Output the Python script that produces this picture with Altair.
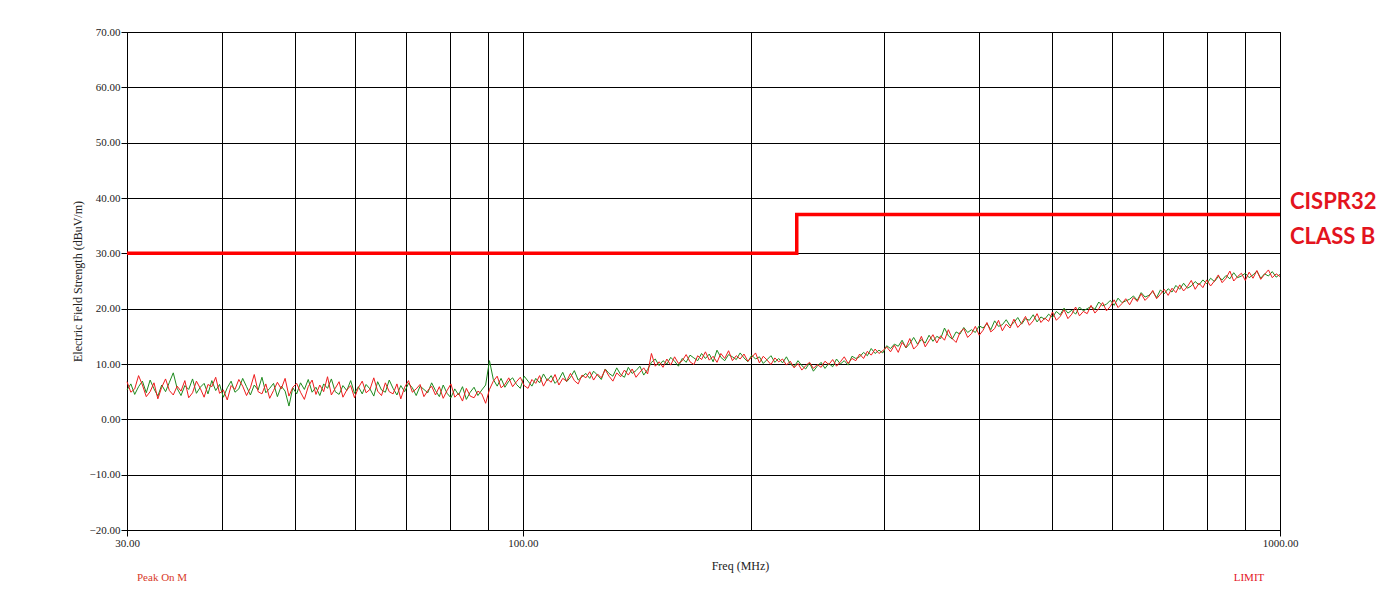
import altair as alt
import numpy as np
import pandas as pd

red_vals = [
    6.8, 4.9, 5.5, 7.9, 6.2, 4.1, 5.0, 6.6, 3.7, 5.8,
    7.3, 5.2, 4.4, 6.0, 5.1, 7.0, 3.9, 4.8, 6.9, 5.6,
    4.0, 6.3, 5.9, 7.6, 4.7, 5.3, 3.5, 6.1, 5.4, 7.2,
    6.0, 4.3, 5.7, 8.1, 5.0, 4.6, 6.4, 3.8, 5.2, 6.7,
    5.5, 7.4, 4.2, 5.8, 6.5, 4.9, 3.6, 5.9, 7.1, 4.5,
    6.2, 5.0, 7.7, 4.4, 5.6, 6.8, 4.0, 5.3, 6.1, 3.9,
    5.7, 6.9, 4.8, 5.4, 7.5, 5.1, 4.3, 6.6, 5.0, 4.6,
    6.4, 3.7, 5.8, 7.0, 4.9, 5.5, 6.3, 4.1, 5.2, 6.0,
    4.4, 5.9, 3.8, 5.2, 6.4, 4.0, 4.7, 3.3, 5.6, 4.2,
    3.9, 5.1, 4.6, 2.9, 5.4, 6.9, 7.8, 5.7, 6.3, 7.5,
    5.9, 6.8, 7.6, 6.1, 5.6, 7.2, 6.5, 7.9, 6.0, 7.3,
    6.7, 8.1, 6.2, 7.4, 6.9, 8.3, 7.0, 6.4, 8.0, 7.5,
    8.6, 7.1, 8.2, 7.5, 9.0, 7.8, 6.9, 8.4, 7.7, 8.9,
    8.0, 9.1, 7.6, 8.5, 9.3, 8.2, 11.9, 9.6, 10.4, 9.4,
    10.9, 9.8, 11.3, 10.1, 10.6, 11.7, 10.4, 9.9, 11.5, 10.8,
    12.2, 10.7, 11.4, 10.3, 11.9, 11.0, 12.4, 10.6, 11.5, 10.9,
    11.8, 10.5, 11.2, 12.0, 10.2, 11.4, 10.7, 9.9, 11.1, 10.4,
    10.9, 9.8, 10.5, 9.3, 10.1, 8.9, 9.7, 10.3, 9.2, 9.9,
    9.4, 10.5, 9.9, 10.8, 9.6, 10.4, 11.3, 10.1, 11.0, 10.6,
    11.8, 11.0, 12.3, 11.6, 12.7, 11.9, 12.4, 13.1, 12.2, 13.4,
    12.1, 13.9, 13.0, 14.6, 12.7, 13.4, 15.0, 13.1, 14.2, 15.3,
    13.8, 15.1, 14.3, 16.2, 14.6, 13.9, 15.7, 16.4, 14.8, 15.5,
    16.8, 15.2, 16.1, 17.5, 15.8, 16.4, 17.9, 16.0, 17.2, 16.5,
    18.1, 16.6, 17.4, 18.6, 17.0, 17.8, 19.1, 17.5, 18.3, 17.7,
    19.4, 17.9, 18.6, 19.8, 18.2, 19.0, 20.3, 18.7, 19.5, 19.1,
    20.6, 19.2, 20.0, 21.1, 19.6, 20.4, 21.6, 20.2, 20.9, 21.8,
    20.7, 22.0, 21.3, 22.7, 21.5, 22.2, 23.3, 21.8, 22.6, 23.5,
    22.4, 23.7, 22.9, 24.3, 23.2, 24.0, 25.1, 23.5, 24.6, 23.8,
    25.2, 24.1, 25.0, 26.1, 24.7, 25.5, 26.8, 25.0, 25.8, 26.4,
    25.1, 26.6, 25.5, 26.9, 25.3, 26.2, 27.0, 25.6, 26.3, 25.8,
]
green_vals = [
    5.3, 6.4, 4.5, 5.9, 6.9, 4.8, 7.1, 5.5, 4.2, 6.2,
    5.0, 6.7, 8.4, 5.6, 4.3, 6.1, 5.4, 7.3, 4.7, 5.8,
    6.5, 4.6, 7.0, 5.2, 6.3, 4.0, 5.7, 6.9, 4.9, 5.5,
    7.4, 5.9, 4.4, 6.2, 5.3, 7.6, 4.8, 5.6, 6.5, 4.1,
    6.0, 5.1, 2.4, 5.7, 4.6, 6.6, 5.4, 7.2, 4.9, 5.8,
    4.3, 6.4, 5.6, 7.3, 5.0, 4.5, 6.1, 5.2, 7.0, 4.7,
    5.9, 4.6, 6.3, 5.5, 4.2, 6.8, 5.3, 4.9, 7.1, 5.6,
    4.4, 6.1, 5.0, 6.5, 5.7, 4.3, 6.0, 5.4, 4.8, 6.6,
    5.2, 4.1, 6.2, 4.7, 3.9, 5.5, 4.4, 5.9, 3.6, 4.9,
    5.8, 4.3, 5.3, 6.2, 10.6, 7.2, 6.0, 7.4, 5.8, 6.9,
    7.5, 6.3, 5.6, 7.8, 6.9, 6.0, 7.4, 6.6, 8.2, 7.0,
    7.9, 6.5, 7.2, 8.5, 6.8, 7.6, 8.8, 7.1, 7.7, 8.3,
    7.4, 8.7, 8.0, 7.2, 9.1, 8.3, 7.8, 9.3, 8.1, 7.6,
    9.4, 8.3, 8.8, 9.6, 8.0, 9.0, 10.3, 10.9, 9.7, 10.6,
    10.0, 11.2, 10.5, 9.6, 11.0, 10.3, 11.6, 11.1, 10.6, 11.9,
    11.0, 11.8, 10.4, 12.5, 11.2, 10.6, 11.7, 11.3, 10.8, 12.0,
    11.1, 10.4, 11.6, 10.9, 11.3, 10.1, 10.8, 11.5, 10.3, 11.0,
    10.2, 11.3, 10.0, 9.5, 10.6, 9.7, 9.1, 10.2, 8.7, 9.6,
    10.3, 9.2, 10.1, 9.5, 10.9, 10.0, 10.6, 9.8, 11.4, 11.0,
    11.3, 12.1, 11.5, 12.8, 11.9, 12.5, 12.0, 13.3, 12.8, 13.6,
    13.2, 14.3, 12.9, 13.7, 14.8, 13.6, 14.4, 13.8, 15.2, 14.1,
    15.0, 14.6, 16.5, 15.1, 14.5, 15.8, 15.4, 16.6, 15.7, 16.2,
    15.7, 16.9, 16.5, 17.3, 16.2, 17.8, 16.8, 17.1, 18.0, 16.9,
    17.5, 18.4, 17.2, 18.2, 17.9, 18.9, 17.6, 18.5, 18.1, 19.0,
    18.4, 19.5, 18.9, 20.1, 19.2, 19.7, 19.0, 20.3, 19.6, 20.0,
    20.4, 19.9, 21.2, 20.5, 20.8, 21.5, 20.6, 21.9, 21.1, 21.4,
    21.7, 22.3, 21.5, 22.9, 22.1, 22.4, 23.1, 22.0, 23.4, 22.7,
    23.6, 23.0, 24.2, 23.5, 24.6, 23.7, 24.1, 24.9, 24.3, 25.2,
    24.5, 25.5, 24.9, 25.8, 25.2, 26.0, 25.4, 26.5, 25.6, 25.9,
    26.4, 25.6, 26.1, 26.8, 25.5, 26.3, 25.9, 26.7, 25.7, 26.2,
]

# ---- CISPR 32 class B limit (radiated, 3 m) ----
limit_freq = [30, 230, 230, 1000]
limit_level = [30, 30, 37, 37]

# ---- axis ticks / grid ----
x_grid = [30, 40, 50, 60, 70, 80, 90, 100, 200, 300, 400, 500, 600, 700, 800, 900, 1000]
y_ticks = [-20, -10, 0, 10, 20, 30, 40, 50, 60, 70]

sweep = np.geomspace(30, 1000, len(red_vals))
df_green = pd.DataFrame({"freq": sweep, "level": green_vals})
df_red = pd.DataFrame({"freq": sweep, "level": red_vals})
df_limit = pd.DataFrame({"freq": limit_freq, "level": limit_level, "ord": list(range(len(limit_freq)))})
df_ann = pd.DataFrame({"freq": [1000], "level": [37]})

SERIF = "Liberation Serif"
RED = "#ee1c1c"
GREEN = "#1e8a1e"

W, H = 1153, 498

xscale = alt.Scale(type="log", domain=[30, 1000], nice=False)
yscale = alt.Scale(domain=[-20, 70], nice=False, zero=False)

lab_test = "datum.value == 30 || datum.value == 100 || datum.value == 1000"

x_enc = alt.X(
    "freq:Q",
    scale=xscale,
    axis=alt.Axis(
        values=x_grid,
        title="Freq (MHz)",
        titleX=613,
        titleY=30,
        labelExpr=f"({lab_test}) ? format(datum.value, '.2f') : ''",
        tickOpacity={"condition": {"test": lab_test, "value": 1}, "value": 0},
        tickSize=6,
        labelPadding=1,
        labelFlush=False,
        labelOverlap=False,
        grid=True,
    ),
)
y_enc = alt.Y(
    "level:Q",
    scale=yscale,
    axis=alt.Axis(
        values=y_ticks,
        format=".2f",
        title="Electric Field Strength (dBuV/m)",
        titlePadding=5,
        tickSize=6,
        labelPadding=1,
        labelFlush=False,
        grid=True,
    ),
)

green = alt.Chart(df_green).mark_line(color=GREEN, strokeWidth=1).encode(x=x_enc, y=y_enc)
red = alt.Chart(df_red).mark_line(color=RED, strokeWidth=1).encode(x="freq:Q", y="level:Q")
limit = alt.Chart(df_limit).mark_line(color="#ff0000", strokeWidth=3.5).encode(
    x="freq:Q", y="level:Q", order="ord:Q"
)
ann1 = alt.Chart(df_ann).mark_text(
    text="CISPR32", align="left", baseline="middle", dx=10, dy=-13,
    font="Lato", fontWeight="bold", fontSize=22, color="#e3141e",
).encode(x="freq:Q", y="level:Q")
ann2 = alt.Chart(df_ann).mark_text(
    text="CLASS B", align="left", baseline="middle", dx=10, dy=22,
    font="Lato", fontWeight="bold", fontSize=22, color="#e3141e",
).encode(x="freq:Q", y="level:Q")

leg1 = alt.Chart(df_ann).mark_text(
    text="Peak On M", align="left", baseline="middle", font=SERIF, fontSize=11, color="#d83a2a",
).encode(x=alt.value(10), y=alt.value(H + 48))
leg2 = alt.Chart(df_ann).mark_text(
    text="LIMIT", align="center", baseline="middle", font=SERIF, fontSize=11, color="#e3141e",
).encode(x=alt.value(1122), y=alt.value(H + 48))

chart = (
    alt.layer(green, red, limit, ann1, ann2, leg1, leg2)
    .properties(
        width=W,
        height=H,
        background="white",
        autosize=alt.AutoSizeParams(type="none"),
        padding={"left": 119, "top": 24, "right": 104, "bottom": 56},
    )
    .configure_axis(
        labelFont=SERIF,
        labelFontSize=11,
        labelColor="#222",
        titleFont=SERIF,
        titleFontSize=12,
        titleFontWeight="normal",
        titleColor="#222",
        domainColor="#000",
        domainWidth=1,
        tickColor="#000",
        gridColor="#000",
        gridOpacity=1,
        gridWidth=1,
    )
    .configure_view(stroke="#000", strokeWidth=1)
)

chart.save("out.html", embed_options={"renderer": "svg", "actions": False})
